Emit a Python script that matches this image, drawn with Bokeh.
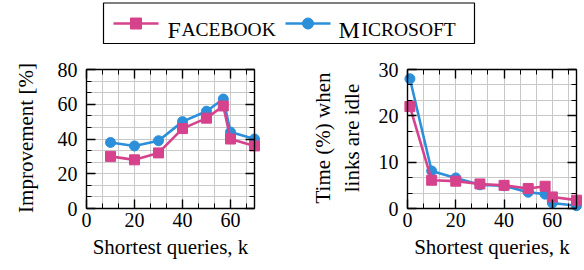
from bokeh.plotting import figure
from bokeh.models import (Range1d, SingleIntervalTicker, LinearAxis, Grid,
                          CustomLabelingPolicy)
from bokeh.layouts import column, row
from bokeh.embed import file_html
from bokeh.resources import INLINE
from bokeh.core.properties import value

# ---------------- data ----------------
series_names = ["Facebook", "Microsoft"]
legend_caps = ["F", "M"]
legend_rest = ["ACEBOOK", "ICROSOFT"]

k_left = [10, 20, 30, 40, 50, 57, 60, 70]
fb_improvement = [30, 28, 32, 46, 52, 59, 40, 36]
ms_improvement = [38, 36, 39, 50, 56, 63, 44, 40]

k_right = [1, 10, 20, 30, 40, 50, 57, 60, 70]
fb_idle = [22, 6.1, 5.9, 5.3, 5.0, 4.3, 4.8, 2.5, 1.8]
ms_idle = [28, 8.1, 6.6, 5.1, 4.9, 3.5, 3.1, 1.2, 0.6]

x_max = 70
x_label = "Shortest queries, k"
y_label_left = "Improvement [%]"
y_label_right = "Time (%) when\nlinks are idle"

PINK = "#d6428c"
BLUE = "#2b8fd9"
FONT = "Liberation Serif"
GRID = "#c8c8c8"

HIDE_LABELS = """
for (let i = 0; i < indices.size; i++) { indices.unset(i) }
return indices
"""

# px of room around the box so that markers are not cut by the frame
PAD_L, PAD_R, PAD_T, PAD_B = 6, 6, 6, 4


def base_style(ax):
    ax.major_label_text_font = FONT
    ax.major_label_text_color = "black"
    ax.major_label_text_font_size = "20px"
    ax.axis_label_text_font = FONT
    ax.axis_label_text_font_style = "normal"
    ax.axis_label_text_color = "black"
    ax.axis_label_text_font_size = "21px"


def label_axis(ticker, label, standoff, label_standoff):
    """Axis at the frame edge that only carries tick labels and the title."""
    ax = LinearAxis(ticker=ticker)
    base_style(ax)
    ax.axis_line_color = None
    ax.major_tick_line_color = None
    ax.minor_tick_line_color = None
    ax.major_tick_in = 0
    ax.major_tick_out = 0
    ax.minor_tick_in = 0
    ax.minor_tick_out = 0
    ax.axis_label = label
    ax.major_label_standoff = standoff
    ax.axis_label_standoff = label_standoff
    return ax


def line_axis(ticker, loc, bounds):
    """Axis line with inner ticks, drawn on the box edge, no labels."""
    ax = LinearAxis(ticker=ticker, fixed_location=loc, bounds=bounds)
    base_style(ax)
    ax.axis_line_color = "black"
    ax.axis_line_width = 1.4
    ax.major_tick_in = 9
    ax.major_tick_out = 0
    ax.minor_tick_in = 5
    ax.minor_tick_out = 0
    ax.major_tick_line_color = "black"
    ax.minor_tick_line_color = "black"
    ax.major_tick_line_width = 1.4
    ax.minor_tick_line_width = 1
    ax.major_label_policy = CustomLabelingPolicy(code=HIDE_LABELS)
    ax.major_label_standoff = 0
    ax.major_label_text_font_size = "1px"
    return ax


def make_plot(width, box_w, box_h, ymax, ystep, ylabel, xs, fb, ms,
              mbl, mbr, ytick_standoff, ylab_standoff):
    ux = x_max / box_w
    uy = ymax / box_h
    p = figure(width=width, height=214,
               x_range=Range1d(-PAD_L * ux, x_max + PAD_R * ux),
               y_range=Range1d(-PAD_B * uy, ymax + PAD_T * uy),
               output_backend="svg", toolbar_location=None,
               x_axis_location=None, y_axis_location=None,
               min_border_left=mbl, min_border_right=mbr,
               min_border_top=7, min_border_bottom=58)
    for g in p.grid:
        g.visible = False
    p.outline_line_color = None
    p.background_fill_color = "white"
    p.border_fill_color = "white"

    xt = SingleIntervalTicker(interval=20, num_minor_ticks=3)
    yt = SingleIntervalTicker(interval=ystep, num_minor_ticks=3)

    gx = Grid(dimension=0, ticker=xt, bounds=(0, x_max), cross_bounds=(0, ymax),
              grid_line_color=GRID, grid_line_width=1,
              minor_grid_line_color=GRID, minor_grid_line_width=1)
    gy = Grid(dimension=1, ticker=yt, bounds=(0, ymax), cross_bounds=(0, x_max),
              grid_line_color=GRID, grid_line_width=1,
              minor_grid_line_color=GRID, minor_grid_line_width=1)
    p.add_layout(gx, "center")
    p.add_layout(gy, "center")

    p.add_layout(label_axis(xt, x_label, 0, 5), "below")
    p.add_layout(label_axis(yt, ylabel, ytick_standoff, ylab_standoff), "left")

    p.add_layout(line_axis(xt, 0, (0, x_max)), "below")
    p.add_layout(line_axis(yt, 0, (0, ymax)), "left")
    p.add_layout(line_axis(xt, ymax, (0, x_max)), "above")
    p.add_layout(line_axis(yt, x_max, (0, ymax)), "right")

    p.line(xs, ms, line_color=BLUE, line_width=2.6)
    p.scatter(xs, ms, marker="circle", size=10, fill_color=BLUE, line_color=BLUE)
    p.line(xs, fb, line_color=PINK, line_width=2.6)
    p.scatter(xs, fb, marker="square", size=10, fill_color=PINK, line_color=PINK)
    return p


p1 = make_plot(292, 168, 139, 80, 20, y_label_left, k_left, fb_improvement,
               ms_improvement, 80, 32, 3, 17)
p2 = make_plot(292, 169, 139, 30, 10, y_label_right, k_right, fb_idle,
               ms_idle, 109, 2, 3, 12)

# ---------------- legend ----------------
leg = figure(width=584, height=56, x_range=Range1d(0, 584), y_range=Range1d(56, 0),
             output_backend="svg", toolbar_location=None, min_border=0,
             x_axis_location=None, y_axis_location=None)
for g in leg.grid:
    g.visible = False
leg.outline_line_color = None
leg.quad(left=103, right=474, top=2.5, bottom=43, fill_color="white",
         line_color="black", line_width=1.2)

ymid = 23
base = 29
leg.line([113, 158], [ymid, ymid], line_color=PINK, line_width=2.6)
leg.scatter([135.5], [ymid], marker="square", size=11, fill_color=PINK, line_color=PINK)
leg.line([285, 330], [ymid, ymid], line_color=BLUE, line_width=2.6)
leg.scatter([307.5], [ymid], marker="circle", size=11, fill_color=BLUE, line_color=BLUE)

leg.text(x=[167, 338], y=[base, base], text=legend_caps, text_font=value(FONT),
         text_font_size="24px", text_baseline="alphabetic", text_align="left",
         text_color="black")
leg.text(x=[181, 361], y=[base, base], text=legend_rest, text_font=value(FONT),
         text_font_size="19.5px", text_baseline="alphabetic", text_align="left",
         text_color="black")

layout = column(leg, row(p1, p2, spacing=0), spacing=0)

open("out.html", "w").write(file_html(layout, INLINE))
